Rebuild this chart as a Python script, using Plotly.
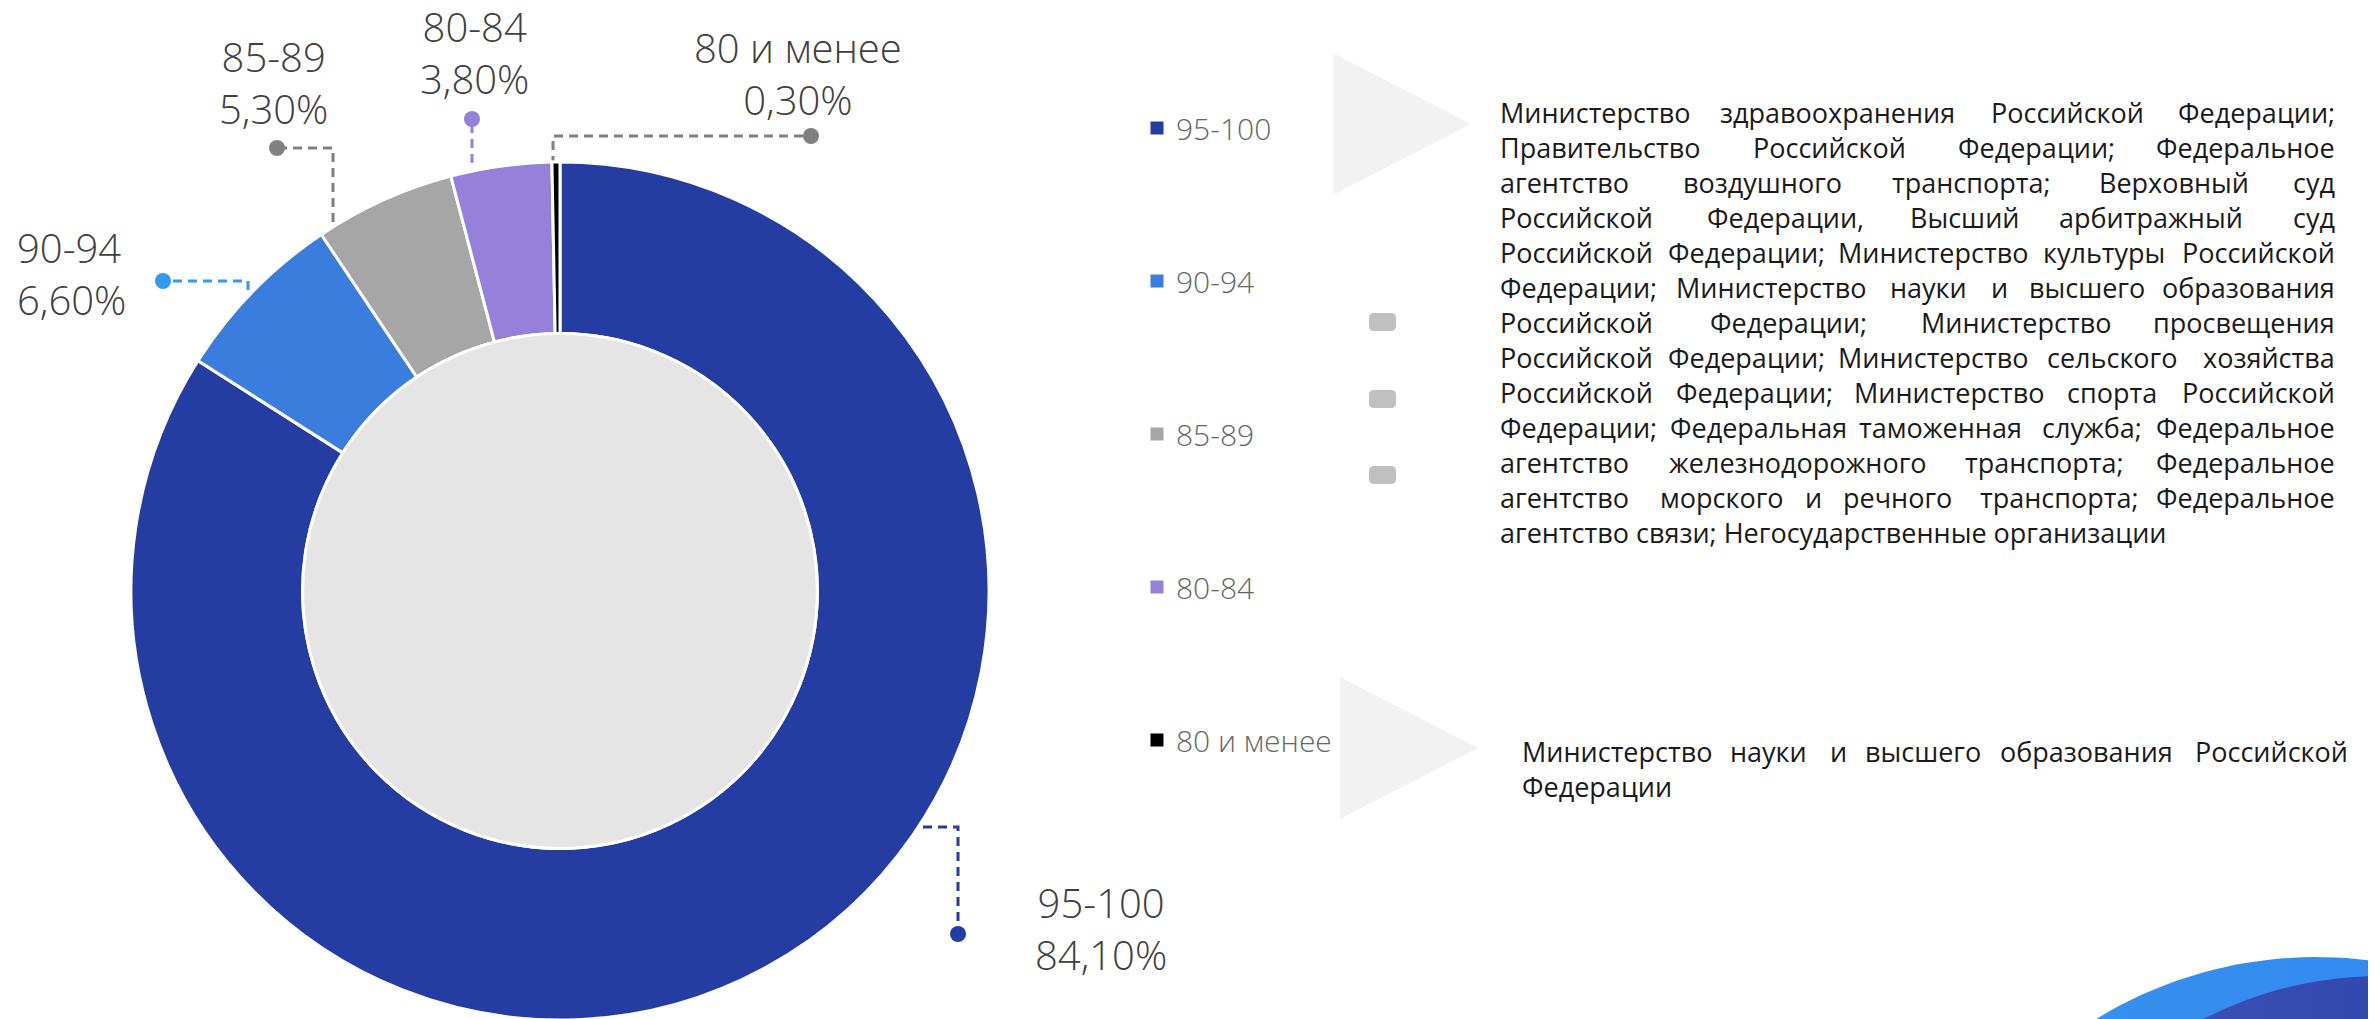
import numpy as np
import plotly.graph_objects as go

# ---------------- data ----------------
categories = ["95-100", "90-94", "85-89", "80-84", "80 и менее"]
values = [84.1, 6.6, 5.3, 3.8, 0.3]
slice_colors = ["#253ca3", "#3b7ddd", "#a6a6a6", "#9580da", "#000000"]
dot_colors = ["#253ca3", "#3399f3", "#808080", "#9580da", "#808080"]

group1_lines = [
    "Министерство здравоохранения Российской Федерации;",
    "Правительство Российской Федерации; Федеральное",
    "агентство воздушного транспорта; Верховный суд",
    "Российской Федерации, Высший арбитражный суд",
    "Российской Федерации; Министерство культуры Российской",
    "Федерации; Министерство науки и высшего образования",
    "Российской Федерации; Министерство просвещения",
    "Российской Федерации; Министерство сельского хозяйства",
    "Российской Федерации; Министерство спорта Российской",
    "Федерации; Федеральная таможенная служба; Федеральное",
    "агентство железнодорожного транспорта; Федеральное",
    "агентство морского и речного транспорта; Федеральное",
    "агентство связи; Негосударственные организации",
]
group2_lines = [
    "Министерство науки и высшего образования Российской",
    "Федерации",
]

# ---------------- layout constants ----------------
W, H = 2376, 1019
OFF = 8  # page body margin offset
CX, CY, R_OUT, HOLE = 560, 591, 429, 0.6
FONT = "Open Sans"
LABEL_COLOR = "#404040"

fig = go.Figure()

# Donut (domain in paper coords, shifted by the page offset)
pcx, pcy = CX - OFF, CY - OFF
fig.add_trace(go.Pie(
    labels=categories, values=values, sort=False, direction="clockwise",
    rotation=0, hole=HOLE, textinfo="none", hoverinfo="label+percent",
    marker=dict(colors=slice_colors, line=dict(color="white", width=3)),
    domain=dict(x=[(pcx - R_OUT) / W, (pcx + R_OUT) / W],
                y=[(H - pcy - R_OUT) / H, (H - pcy + R_OUT) / H]),
    showlegend=False,
))

shapes = []
annotations = []

# inner grey disc
r_in = R_OUT * HOLE
shapes.append(dict(type="circle", xref="x", yref="y", layer="above",
                   x0=CX - r_in, x1=CX + r_in, y0=CY - r_in, y1=CY + r_in,
                   fillcolor="#e5e5e5", line=dict(color="white", width=3)))

# outside labels with leader lines
label_pos = [  # (x, y, xanchor)
    (1101, 928, "center"),
    (15, 273, "left"),
    (273, 82, "center"),
    (474, 52, "center"),
    (798, 73, "center"),
]
leaders = [
    [(923, 827), (958, 827), (958, 934)],
    [(248, 290), (248, 281), (163, 281)],
    [(333, 222), (333, 148), (277, 148)],
    [(472, 163), (472, 119)],
    [(553, 180), (553, 136), (811, 136)],
]
for i, cat in enumerate(categories):
    pts = leaders[i]
    fig.add_trace(go.Scatter(
        x=[p[0] for p in pts], y=[p[1] for p in pts], mode="lines",
        line=dict(color=dot_colors[i], width=3, dash="9px,6px"),
        hoverinfo="skip", showlegend=False))
    fig.add_trace(go.Scatter(
        x=[pts[-1][0]], y=[pts[-1][1]], mode="markers",
        marker=dict(color=dot_colors[i], size=16, line=dict(width=0)),
        hoverinfo="skip", showlegend=False))
    txt = f"{cat}<br>{values[i]:.2f}".replace(".", ",") + "%"
    x, y, xa = label_pos[i]
    annotations.append(dict(x=x, y=y, xref="x", yref="y", text=txt,
                            showarrow=False, xanchor=xa, yanchor="middle",
                            align=xa,
                            font=dict(family=FONT, size=40, color=LABEL_COLOR,
                                      weight=300)))

# custom legend
leg_y = [128 + i * 153 for i in range(len(categories))]
fig.add_trace(go.Scatter(
    x=[1157] * len(categories), y=leg_y, mode="markers",
    marker=dict(symbol="square", size=13, color=slice_colors, line=dict(width=0)),
    hoverinfo="skip", showlegend=False))
for i, cat in enumerate(categories):
    annotations.append(dict(x=1174, y=leg_y[i], xref="x", yref="y", text=cat,
                            showarrow=False, xanchor="left", yanchor="middle",
                            font=dict(family=FONT, size=30, color="#666666",
                                      weight=300)))

# light triangles
for (x0, y0, x1, y1) in [(1333, 53, 1471, 195), (1340, 677, 1478, 819)]:
    ym = (y0 + y1) / 2
    shapes.append(dict(type="path", xref="x", yref="y", layer="below",
                       path=f"M {x0},{y0} L {x1},{ym} L {x0},{y1} Z",
                       fillcolor="#f2f2f2", line=dict(width=0)))

# small grey rounded rectangles
for yc in [322, 399, 475]:
    x0, x1, y0, y1, r = 1369, 1396, yc - 9, yc + 9, 5
    path = (f"M {x0+r},{y0} L {x1-r},{y0} Q {x1},{y0} {x1},{y0+r} "
            f"L {x1},{y1-r} Q {x1},{y1} {x1-r},{y1} L {x0+r},{y1} "
            f"Q {x0},{y1} {x0},{y1-r} L {x0},{y0+r} Q {x0},{y0} {x0+r},{y0} Z")
    shapes.append(dict(type="path", xref="x", yref="y", path=path,
                       fillcolor="#c0c0c0", line=dict(width=0)))

# justified text blocks
def justified(lines, left, right, y0, dy, size, k):
    out = []
    for li, line in enumerate(lines):
        y = y0 + li * dy
        words = line.split(" ")
        last = li == len(lines) - 1
        if last or len(words) == 1:
            out.append(dict(x=left, y=y, xref="x", yref="y", text=line,
                            showarrow=False, xanchor="left", yanchor="middle",
                            font=dict(family=FONT, size=size, color="#1a1a1a")))
            continue
        n = len(words)
        extra = (right - left - k * len(line)) / (n - 1)
        pos = 0
        for i, w in enumerate(words):
            if i == 0:
                x, xa = left, "left"
            elif i == n - 1:
                x, xa = right, "right"
            else:
                x, xa = left + k * pos + i * extra + k * len(w) / 2, "center"
            out.append(dict(x=x, y=y, xref="x", yref="y", text=w,
                            showarrow=False, xanchor=xa, yanchor="middle",
                            font=dict(family=FONT, size=size, color="#1a1a1a")))
            pos += len(w) + 1
    return out

annotations += justified(group1_lines, 1498, 2337, 112, 35, 27, 15.5)
annotations += justified(group2_lines, 1520, 2350, 751, 35, 27, 15.5)

# decorative swoosh bottom-right
t = np.linspace(0, 2 * np.pi, 240)
for (cx, cy, r, cs) in [(2316, 1378, 421, [[0, "#3894ee"], [1, "#2f84f0"]]),
                        (2380, 1360, 384, [[0, "#4255ba"], [1, "#243ba2"]])]:
    fig.add_trace(go.Scatter(
        x=cx + r * np.cos(t), y=cy + r * np.sin(t), mode="lines",
        fill="toself", fillgradient=dict(type="horizontal", colorscale=cs),
        line=dict(width=0), hoverinfo="skip", showlegend=False))

fig.update_layout(
    width=W, height=H, margin=dict(l=0, r=0, t=0, b=0),
    paper_bgcolor="white", plot_bgcolor="rgba(0,0,0,0)",
    xaxis=dict(range=[OFF, W + OFF], visible=False, fixedrange=True),
    yaxis=dict(range=[H + OFF, OFF], visible=False, fixedrange=True),
    shapes=shapes, annotations=annotations,
    font=dict(family=FONT),
)

fig.write_html("out.html")
